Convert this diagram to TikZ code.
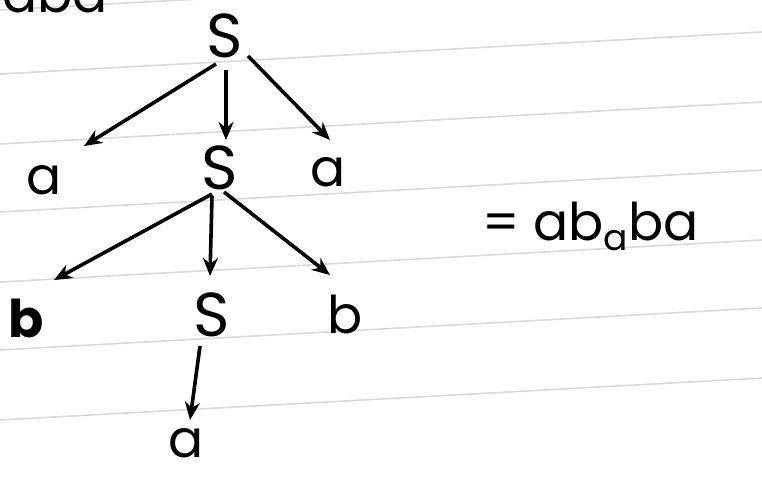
\documentclass[tikz,border=0pt]{standalone}
\usepackage{fontspec}
\setmainfont{Poppins}
\usetikzlibrary{arrows.meta}
\begin{document}
\begin{tikzpicture}[x=1pt,y=-1pt,
  sym/.style={inner sep=0pt,font=\fontsize{52}{52}\selectfont},
  big/.style={inner sep=0pt,font=\fontsize{62}{62}\selectfont},
  edge/.style={line width=3.6pt,-{Stealth[length=18pt,width=15pt]}},
  ruling/.style={gray!30,line width=1.6pt}]
\useasboundingbox (0,0) rectangle (762,477);
\clip (0,0) rectangle (762,477);
\fill[white] (0,0) rectangle (762,477);
% ruled paper
\foreach \yy in {10,74,144,212,282,350,420}
  \draw[ruling] (0,\yy) -- (762,\yy-42);
% partly cut-off text at the top
\node[sym,anchor=base west] (top) at (2,12) {aba};
% tree
\node[big] (s1) at (225,36) {S};
\node[sym] (l1) at (44,180) {a};
\node[big] (s2) at (220,168) {S};
\node[sym] (r1) at (328,172) {a};
\node[sym,font=\fontsize{52}{52}\selectfont\bfseries] (l2) at (26,318) {b};
\node[big] (s3) at (212,315) {S};
\node[sym] (r2) at (345,314) {b};
\node[sym] (c3) at (186,443) {a};
\node[sym,anchor=west] (res) at (482,226) {= ab\raisebox{-0.35ex}{\fontsize{36}{36}\selectfont a}ba};
\draw[edge] (216,64) -- (84,146);
\draw[edge] (226,70) -- (226,140);
\draw[edge] (248,56) -- (330,140);
\draw[edge] (212,194) -- (54,280);
\draw[edge] (212,196) -- (210,276);
\draw[edge] (224,192) -- (330,275);
\draw[edge] (200,346) -- (190,420);
\end{tikzpicture}
\end{document}
